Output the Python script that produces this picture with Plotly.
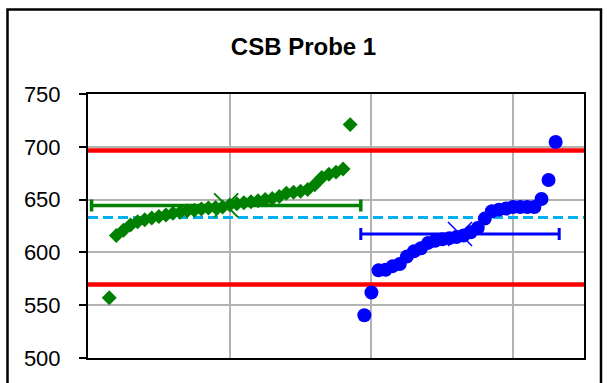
import plotly.graph_objects as go

# ---- data ----
green_x = list(range(3, 38))
green_y = [557, 616, 621, 626, 629, 631, 632.5, 634, 635.5, 637, 638, 639.5, 640,
           641, 642, 642.5, 643, 645, 646, 647, 648, 649, 650, 651, 653, 656, 657,
           658, 659.5, 664, 671, 674, 676, 679, 721]
blue_x = list(range(39, 67))
blue_y = [540.5, 562, 583, 583.5, 587, 589, 596, 601, 604, 609, 611, 612.5, 613.5,
          614.5, 616, 619, 623, 632, 639, 640.5, 641.5, 643, 643, 643, 643, 650.5,
          668.5, 704.5]
green_mean_x, green_mean_y, green_spread = 19.5, 644.5, 19
blue_mean_x, blue_mean_y, blue_spread = 52.5, 617.5, 14
upper_limit = 696.5
lower_limit = 569.5
grand_mean = 633
x_span = [0, 70]
y_ticks = [500, 550, 600, 650, 700, 750]

FONT = "Liberation Sans, Arial, sans-serif"

fig = go.Figure()
# reference lines
for yv in (upper_limit, lower_limit):
    fig.add_trace(go.Scatter(x=x_span, y=[yv, yv], mode="lines",
                             line=dict(color="#FF0000", width=4.5),
                             hoverinfo="skip", showlegend=False))
fig.add_trace(go.Scatter(x=x_span, y=[grand_mean, grand_mean], mode="lines",
                         line=dict(color="#00B0F0", width=3, dash="10px,5px"),
                         hoverinfo="skip", showlegend=False))
# data
fig.add_trace(go.Scatter(x=green_x, y=green_y, mode="markers",
                         marker=dict(symbol="diamond", size=11.5, color="#008000",
                                     line=dict(width=0)),
                         showlegend=False))
fig.add_trace(go.Scatter(x=blue_x, y=blue_y, mode="markers",
                         marker=dict(symbol="circle", size=14, color="#0000FF",
                                     line=dict(width=0)),
                         showlegend=False))
# means with horizontal error bars
fig.add_trace(go.Scatter(x=[green_mean_x], y=[green_mean_y], mode="markers",
                         marker=dict(symbol="x-thin", size=24, color="#008000",
                                     line=dict(color="#008000", width=2)),
                         error_x=dict(type="data", array=[green_spread],
                                      color="#008000", thickness=3.5, width=6),
                         showlegend=False))
fig.add_trace(go.Scatter(x=[blue_mean_x], y=[blue_mean_y], mode="markers",
                         marker=dict(symbol="x-thin", size=24, color="#0000FF",
                                     line=dict(color="#0000FF", width=1.5)),
                         error_x=dict(type="data", array=[blue_spread],
                                      color="#0000FF", thickness=3, width=6),
                         showlegend=False))

fig.update_layout(
    width=607, height=383,
    margin=dict(l=88, r=23, t=94, b=25, autoexpand=False),
    paper_bgcolor="white", plot_bgcolor="white",
    font=dict(family=FONT, color="black", size=22),
    title=dict(text="<b>CSB Probe 1</b>", x=0.5, xanchor="center",
               y=1 - 47 / 383, yanchor="middle", yref="container",
               font=dict(family=FONT, size=24, color="black")),
    xaxis=dict(range=x_span, dtick=20, tick0=0, showticklabels=False, ticks="",
               showgrid=True, gridcolor="#B3B3B3", gridwidth=1.5,
               showline=True, linecolor="black", linewidth=2, mirror=True,
               zeroline=False, fixedrange=True),
    yaxis=dict(range=[500, 750], tickvals=y_ticks, ticks="outside", ticklen=7,
               tickwidth=2, tickcolor="black", ticklabelstandoff=14,
               showgrid=True, gridcolor="#B3B3B3", gridwidth=1.5,
               showline=True, linecolor="black", linewidth=2, mirror=True,
               zeroline=False, fixedrange=True,
               tickfont=dict(family=FONT, size=22, color="black")),
    shapes=[dict(type="rect", xref="paper", yref="paper",
                 x0=(7.5 - 88) / 496, x1=(601 - 88) / 496,
                 y0=(358 - 395) / 264, y1=(358 - 9.5) / 264,
                 line=dict(color="black", width=2.5), fillcolor="rgba(0,0,0,0)",
                 layer="below")],
)

fig.write_html("out.html", config={"displayModeBar": False},
               post_script="document.body.style.margin='0';document.body.style.padding='0';")
